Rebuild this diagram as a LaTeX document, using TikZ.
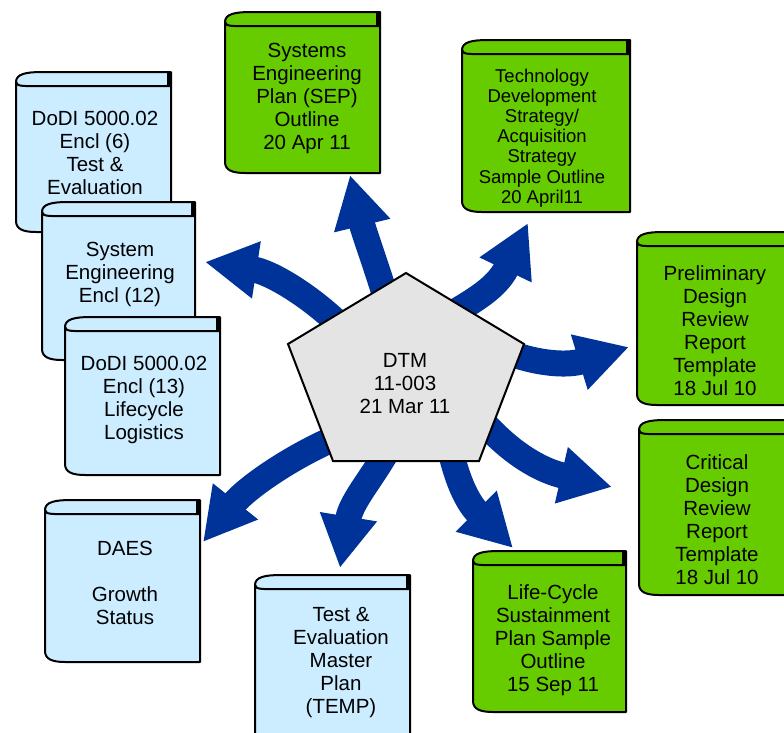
\documentclass[tikz,border=0pt]{standalone}
\usepackage{fontspec}
\setmainfont{Liberation Sans}
\usetikzlibrary{arrows.meta}
\definecolor{bookgreen}{RGB}{102,204,0}
\definecolor{bookblue}{RGB}{204,236,255}
\definecolor{arrowblue}{RGB}{0,51,153}
\definecolor{pentagray}{RGB}{228,228,228}
\tikzset{
  bookline/.style={draw=black, line width=2pt, line join=round},
  bt/.style={align=center, inner sep=0pt, font=\fontsize{20.5}{23}\selectfont},
  btsmall/.style={align=center, inner sep=0pt, font=\fontsize{18.5}{20.2}\selectfont},
  bigarrow/.style={draw=arrowblue, line width=26pt, -{Triangle[length=52pt,width=54pt,color=arrowblue]}},
}
% #1 x0, #2 y0 (top), #3 x1, #4 y1 (bottom), #5 fill
\newcommand\drawbook[5]{%
  \draw[bookline, fill=#5] (#1,{#2+10}) .. controls (#1,{#2+2}) and ({#1+10},#2) .. ({#1+26},#2)
     -- (#3,#2) -- (#3,#4) -- ({#1+20},#4) .. controls ({#1+7},#4) and (#1,{#4-3}) .. (#1,{#4-11}) -- cycle;
  \draw[bookline] (#1,{#2+10}) .. controls (#1,{#2+15}) and ({#1+10},{#2+14}) .. ({#1+26},{#2+14}) -- (#3,{#2+14});
  \fill[black] ({#3-4},#2) rectangle (#3,{#2+14});
}
\begin{document}
\begin{tikzpicture}[x=1pt,y=-1pt]
\useasboundingbox (0,0) rectangle (784,732);

% arrow end points
\coordinate (s1) at (395,330); \coordinate (t1) at (350,175);
\coordinate (s2) at (345,330); \coordinate (t2) at (205,262);
\coordinate (s3) at (425,330); \coordinate (t3) at (528,223);
\coordinate (s4) at (475,335); \coordinate (t4) at (629,347);
\coordinate (s5) at (465,400); \coordinate (t5) at (612,487);
\coordinate (s6) at (445,420); \coordinate (t6) at (513,548);
\coordinate (s7) at (400,420); \coordinate (t7) at (340,568);
\coordinate (s8) at (355,430); \coordinate (t8) at (203,542);

\draw[bigarrow] (s1) .. controls (385,290) and (364,233) .. (t1);
\draw[bigarrow] (s2) .. controls (310,295) and (270,272) .. (t2);
\draw[bigarrow] (s3) .. controls (465,305) and (495,292) .. (t3);
\draw[bigarrow] (s4) .. controls (510,360) and (560,368) .. (t4);
\draw[bigarrow] (s5) .. controls (495,440) and (530,468) .. (t5);
\draw[bigarrow] (s6) .. controls (452,470) and (465,500) .. (t6);
\draw[bigarrow] (s7) .. controls (390,460) and (352,495) .. (t7);
\draw[bigarrow] (s8) .. controls (300,450) and (247,487) .. (t8);

% central pentagon
\draw[line width=2pt, line join=miter, fill=pentagray] (406,273) -- (524,344) -- (479,461) -- (333,461) -- (288,344) -- cycle;
\node[bt] (dtm) at (405,384) {DTM\\11-003\\21 Mar 11};

% books
\drawbook{225}{12}{380}{173}{bookgreen}
\node[bt] (sep) at (307,98) {Systems\\Engineering\\Plan (SEP)\\Outline\\20 Apr 11};

\drawbook{462}{40}{630}{212}{bookgreen}
\node[btsmall] (tds) at (542,138) {Technology\\Development\\Strategy/\\Acquisition\\Strategy\\Sample Outline\\20 April11};

\drawbook{637}{232}{792}{405}{bookgreen}
\node[bt] (pdr) at (715,331) {Preliminary\\Design\\Review\\Report\\Template\\18 Jul 10};

\drawbook{639}{420}{792}{595}{bookgreen}
\node[bt] (cdr) at (717,520) {Critical\\Design\\Review\\Report\\Template\\18 Jul 10};

\drawbook{473}{551}{626}{712}{bookgreen}
\node[bt] (lcsp) at (553,640) {Life-Cycle\\Sustainment\\Plan Sample\\Outline\\15 Sep 11};

\drawbook{255}{575}{410}{760}{bookblue}
\node[bt] (temp) at (341,663) {Test \&\\Evaluation\\Master\\Plan\\(TEMP)};

\drawbook{45}{500}{200}{662}{bookblue}
\node[bt] (daes) at (125,583) {DAES\\[23pt]Growth\\Status};

\drawbook{16}{72}{171}{232}{bookblue}
\node[bt] (encl6) at (95,153) {DoDI 5000.02\\Encl (6)\\Test \&\\Evaluation};

\drawbook{42}{202}{195}{360}{bookblue}
\node[bt] (encl12) at (120,274) {System\\Engineering\\Encl (12)};

\drawbook{65}{317}{220}{475}{bookblue}
\node[bt] (encl13) at (144,400) {DoDI 5000.02\\Encl (13)\\Lifecycle\\Logistics};
\end{tikzpicture}
\end{document}
